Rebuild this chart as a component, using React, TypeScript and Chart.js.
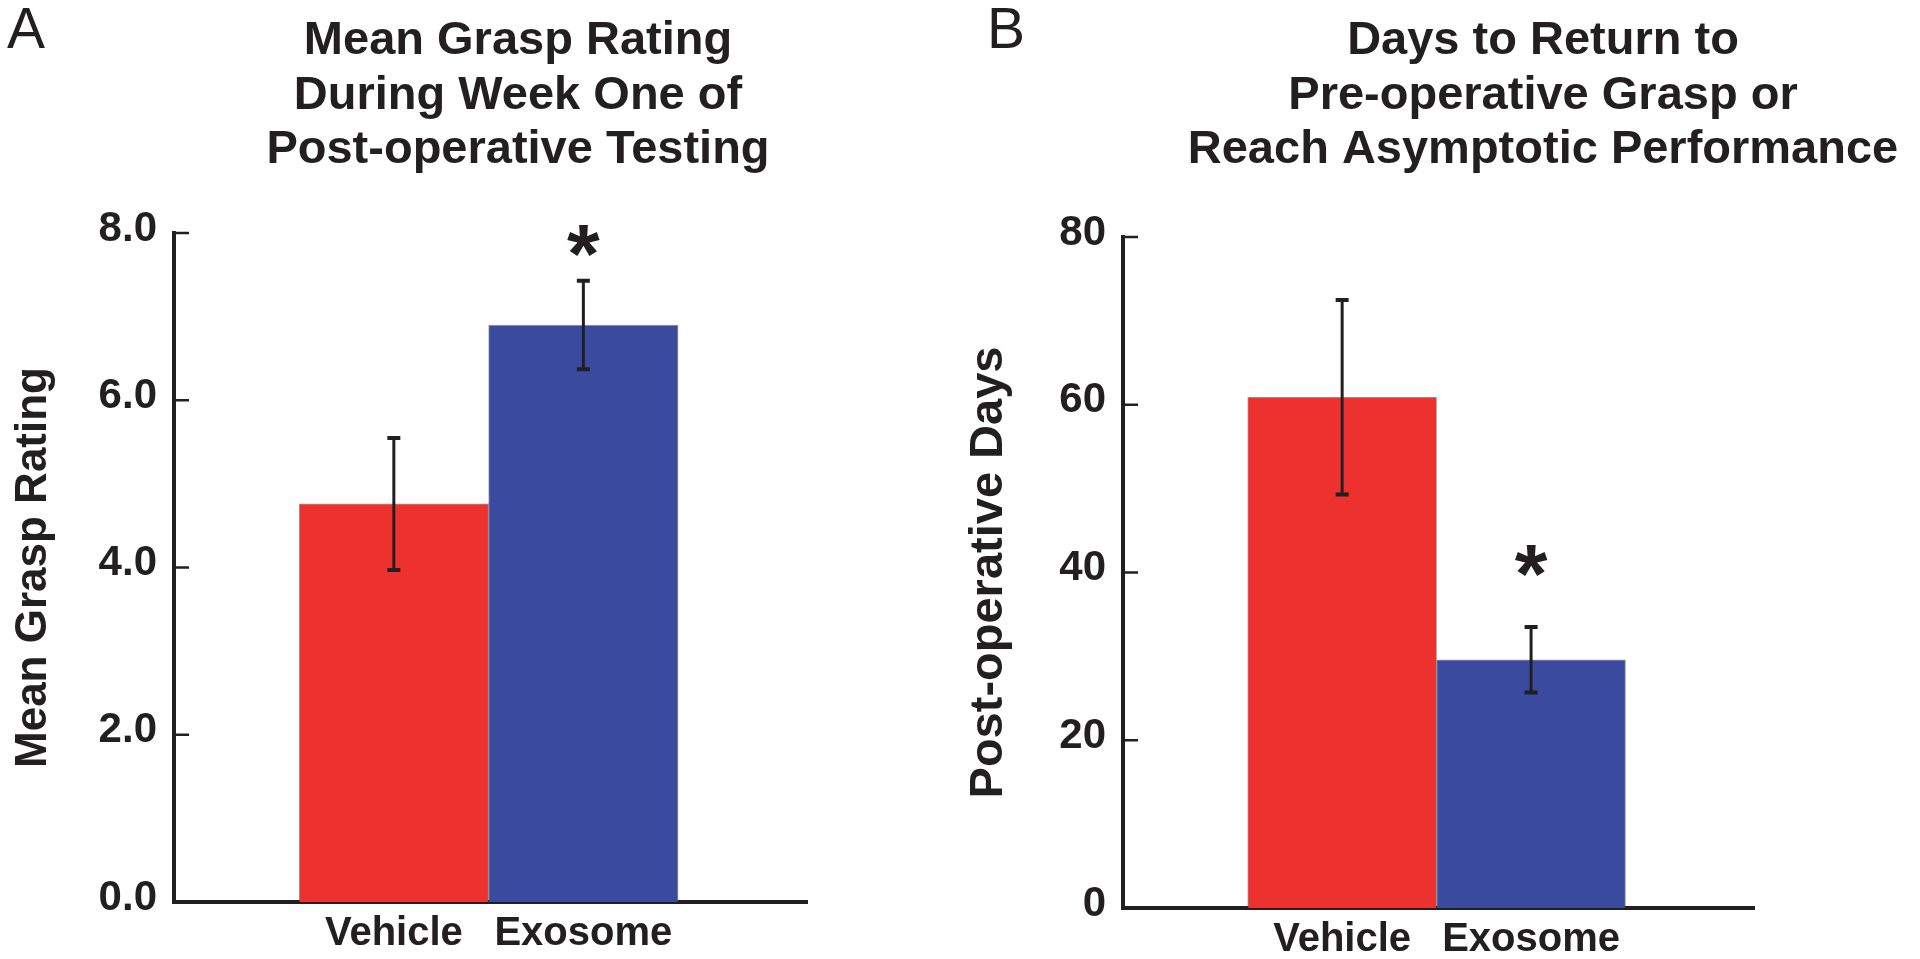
import React, { useEffect, useRef } from 'react';
import { Chart, registerables } from 'chart.js';

Chart.register(...registerables);

// ---------- data ----------
const categories = ['Vehicle', 'Exosome'];
const barColors = ['#ED312E', '#3A4B9F'];

const graspTitle = ['Mean Grasp Rating', 'During Week One of', 'Post-operative Testing'];
const graspAxisTitle = 'Mean Grasp Rating';
const graspMeans = [4.76, 6.9];
const graspErrors = [0.79, 0.53];
const graspTicks = [0, 2, 4, 6, 8];
const graspSignificance = [null, 7.9]; // value where the "*" is centred

const daysTitle = ['Days to Return to', 'Pre-operative Grasp or', 'Reach Asymptotic Performance'];
const daysAxisTitle = 'Post-operative Days';
const daysMeans = [60.9, 29.6];
const daysErrors = [11.6, 3.9];
const daysTicks = [0, 20, 40, 60, 80];
const daysSignificance = [null, 41.4];

const INK = '#231F20';
const FONT = '"Liberation Sans", Arial, Helvetica, sans-serif';

type PanelSpec = {
  letter: string;
  title: string[];
  axisTitle: string;
  means: number[];
  errors: number[];
  sig: (number | null)[];
  ticks: number[];
  decimals: number;
  left: number;
  chartTop: number;
  rightPad: number;
  yAxisWidth: number;
  xAxisHeight: number;
  titleX: number;
  letterX: number;
  yTitleSize: number;
  yTitlePad: number;
};

const panels: PanelSpec[] = [
  {
    letter: 'A',
    title: graspTitle,
    axisTitle: graspAxisTitle,
    means: graspMeans,
    errors: graspErrors,
    sig: graspSignificance,
    ticks: graspTicks,
    decimals: 1,
    left: 0,
    chartTop: 233,
    rightPad: 153,
    yAxisWidth: 174,
    xAxisHeight: 57,
    titleX: 518,
    letterX: 7,
    yTitleSize: 44,
    yTitlePad: 7,
  },
  {
    letter: 'B',
    title: daysTitle,
    axisTitle: daysAxisTitle,
    means: daysMeans,
    errors: daysErrors,
    sig: daysSignificance,
    ticks: daysTicks,
    decimals: 0,
    left: 960,
    chartTop: 237,
    rightPad: 166,
    yAxisWidth: 163,
    xAxisHeight: 51,
    titleX: 583,
    letterX: 27,
    yTitleSize: 47,
    yTitlePad: 1,
  },
];

function makeDecor(p: PanelSpec) {
  return {
    id: 'panelDecor' + p.letter,
    afterDatasetsDraw(chart: any) {
      const { ctx, scales } = chart;
      const x = scales.x;
      const y = scales.y;
      ctx.save();
      ctx.strokeStyle = INK;
      ctx.fillStyle = INK;
      p.means.forEach((m, i) => {
        const px = x.getPixelForValue(i);
        const top = y.getPixelForValue(m + p.errors[i]);
        const bot = y.getPixelForValue(m - p.errors[i]);
        ctx.lineWidth = 3;
        ctx.beginPath();
        ctx.moveTo(px, top);
        ctx.lineTo(px, bot);
        ctx.stroke();
        ctx.lineWidth = 4;
        ctx.beginPath();
        ctx.moveTo(px - 6.5, top);
        ctx.lineTo(px + 6.5, top);
        ctx.moveTo(px - 6.5, bot);
        ctx.lineTo(px + 6.5, bot);
        ctx.stroke();
      });
      ctx.restore();
    },
    afterDraw(chart: any) {
      const { ctx, chartArea, scales } = chart;
      const x = scales.x;
      const y = scales.y;
      ctx.save();
      // inward tick marks
      ctx.strokeStyle = INK;
      ctx.lineWidth = 2.5;
      y.ticks.forEach((t: any) => {
        const py = y.getPixelForValue(t.value);
        ctx.beginPath();
        ctx.moveTo(chartArea.left, py);
        ctx.lineTo(chartArea.left + 15, py);
        ctx.stroke();
      });
      // significance markers
      ctx.fillStyle = INK;
      ctx.font = `bold 84px ${FONT}`;
      ctx.textAlign = 'center';
      ctx.textBaseline = 'alphabetic';
      p.sig.forEach((v, i) => {
        if (v === null || v === undefined) return;
        const m = ctx.measureText('*');
        const cy = y.getPixelForValue(v);
        const off = (m.actualBoundingBoxAscent - m.actualBoundingBoxDescent) / 2;
        ctx.fillText('*', x.getPixelForValue(i), cy + off);
      });
      // panel title
      ctx.font = `bold 47px ${FONT}`;
      ctx.textAlign = 'center';
      const baselines = [54, 109, 163];
      p.title.forEach((line, i) => ctx.fillText(line, p.titleX, baselines[i]));
      // panel letter
      ctx.font = `normal 57px ${FONT}`;
      ctx.textAlign = 'left';
      ctx.fillText(p.letter, p.letterX, 48);
      ctx.restore();
    },
  };
}

function makeConfig(p: PanelSpec): any {
  return {
    type: 'bar',
    data: {
      datasets: [
        {
          data: p.means.map((v, i) => ({ x: i, y: v })),
          backgroundColor: barColors,
          borderColor: 'rgba(70,70,70,0.5)',
          borderWidth: 1,
          borderSkipped: 'bottom',
          barPercentage: 1,
          categoryPercentage: 1,
        },
      ],
    },
    options: {
      responsive: false,
      animation: false,
      events: [],
      layout: { padding: { top: p.chartTop, right: p.rightPad, left: 0, bottom: 0 } },
      plugins: { legend: { display: false }, tooltip: { enabled: false }, title: { display: false } },
      scales: {
        x: {
          type: 'linear',
          min: -1.16,
          max: 2.18,
          offset: false,
          z: 1,
          grid: { display: false, drawTicks: false },
          border: { display: true, color: INK, width: 4 },
          afterBuildTicks: (s: any) => {
            s.ticks = categories.map((_, i) => ({ value: i }));
          },
          afterFit: (s: any) => {
            s.height = p.xAxisHeight;
          },
          ticks: {
            autoSkip: false,
            maxRotation: 0,
            padding: 8,
            color: INK,
            font: { family: FONT, size: 40, weight: 'bold' },
            callback: (v: any) => categories[Math.round(v)] ?? '',
          },
        },
        y: {
          min: p.ticks[0],
          max: p.ticks[p.ticks.length - 1],
          z: 1,
          grid: { display: false, drawTicks: false },
          border: { display: true, color: INK, width: 4 },
          afterBuildTicks: (s: any) => {
            s.ticks = p.ticks.map((v) => ({ value: v }));
          },
          afterFit: (s: any) => {
            s.width = p.yAxisWidth;
          },
          ticks: {
            padding: 17,
            labelOffset: -4,
            color: INK,
            font: { family: FONT, size: 42, weight: 'bold' },
            callback: (v: any) => Number(v).toFixed(p.decimals),
          },
          title: {
            display: true,
            text: p.axisTitle,
            color: INK,
            padding: { top: p.yTitlePad, bottom: 0 },
            font: { family: FONT, size: p.yTitleSize, weight: 'bold', lineHeight: 1.2 },
          },
        },
      },
    },
    plugins: [makeDecor(p)],
  };
}

function Panel({ spec }: { spec: PanelSpec }) {
  const ref = useRef<HTMLCanvasElement>(null);
  useEffect(() => {
    const chart = new Chart(ref.current as HTMLCanvasElement, makeConfig(spec));
    return () => chart.destroy();
  }, [spec]);
  return (
    <div style={{ position: 'absolute', left: spec.left, top: 0, width: 960, height: 959 }}>
      <canvas ref={ref} width={960} height={959} style={{ display: 'block', width: 960, height: 959 }} />
    </div>
  );
}

export default function App() {
  return (
    <div style={{ position: 'absolute', left: 0, top: 0, width: 1920, height: 959, background: '#ffffff', overflow: 'hidden' }}>
      {panels.map((p) => (
        <Panel key={p.letter} spec={p} />
      ))}
    </div>
  );
}
